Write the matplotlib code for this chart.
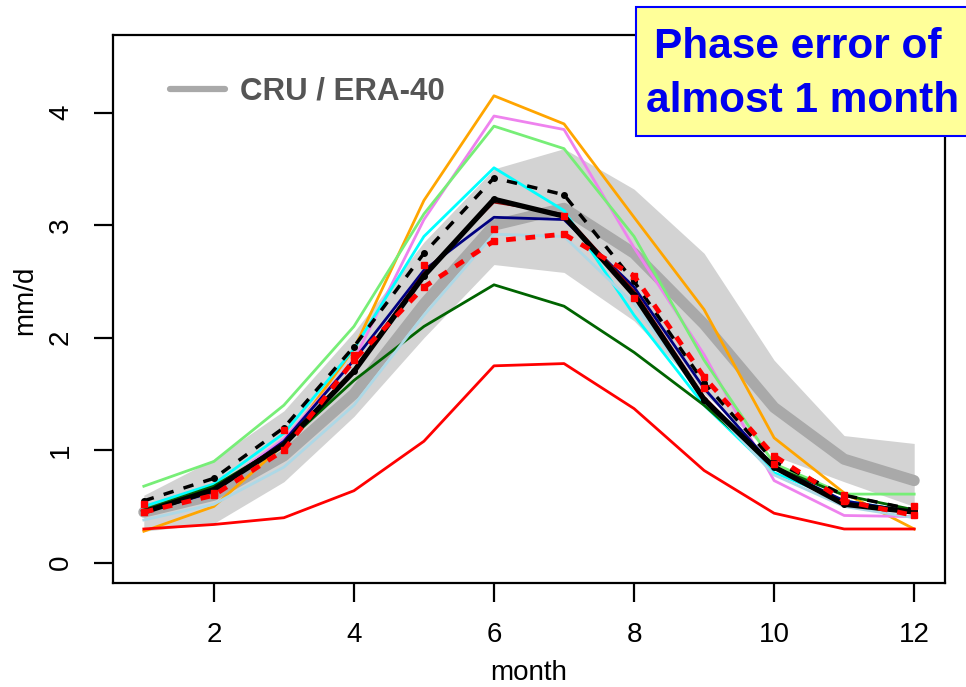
import numpy as np
import matplotlib
matplotlib.use("Agg")
import matplotlib.pyplot as plt
from matplotlib.lines import Line2D
from matplotlib.patches import Rectangle

plt.rcParams['font.family'] = ['Liberation Sans', 'DejaVu Sans']

months = np.arange(1, 13)

# observations (CRU / ERA-40) with spread
obs_mean = [0.45, 0.60, 0.95, 1.50, 2.30, 3.00, 3.15, 2.75, 2.12, 1.38, 0.92, 0.73]
obs_upper = [0.60, 0.92, 1.35, 2.05, 2.85, 3.50, 3.68, 3.32, 2.75, 1.80, 1.13, 1.06]
obs_lower = [0.28, 0.35, 0.72, 1.30, 2.00, 2.65, 2.58, 2.15, 1.50, 0.95, 0.72, 0.50]

# model runs
orange = [0.28, 0.50, 1.05, 1.90, 3.22, 4.15, 3.90, 3.07, 2.25, 1.11, 0.62, 0.30]
violet = [0.45, 0.65, 1.10, 1.80, 3.05, 3.97, 3.85, 2.80, 1.85, 0.73, 0.42, 0.41]
lgreen = [0.68, 0.90, 1.40, 2.10, 3.10, 3.88, 3.68, 2.90, 1.80, 0.88, 0.61, 0.61]
cyan = [0.50, 0.70, 1.15, 1.90, 2.90, 3.51, 3.13, 2.20, 1.40, 0.80, 0.55, 0.45]
dgreen = [0.47, 0.68, 1.05, 1.62, 2.10, 2.47, 2.28, 1.87, 1.40, 0.85, 0.60, 0.47]
red = [0.30, 0.34, 0.40, 0.64, 1.08, 1.75, 1.77, 1.37, 0.82, 0.44, 0.30, 0.30]
navy = [0.45, 0.63, 1.08, 1.80, 2.60, 3.07, 3.05, 2.45, 1.55, 0.85, 0.55, 0.45]
lblue = [0.38, 0.52, 0.85, 1.40, 2.20, 2.92, 2.90, 2.30, 1.45, 0.78, 0.50, 0.40]
darkred = [0.46, 0.66, 1.07, 1.72, 2.58, 3.20, 3.10, 2.42, 1.48, 0.84, 0.53, 0.45]
black = [0.45, 0.65, 1.05, 1.70, 2.55, 3.23, 3.08, 2.38, 1.45, 0.85, 0.52, 0.45]
black_dash = [0.55, 0.75, 1.20, 1.92, 2.75, 3.42, 3.27, 2.50, 1.60, 0.90, 0.60, 0.47]
red_dash = [0.45, 0.60, 1.00, 1.80, 2.45, 2.86, 2.92, 2.55, 1.65, 0.95, 0.55, 0.42]
red_dash2 = [0.52, 0.62, 1.18, 1.85, 2.65, 2.97, 3.08, 2.35, 1.55, 0.88, 0.60, 0.50]

fig = plt.figure(figsize=(9.66, 6.87), dpi=100)
ax = fig.add_axes([113/966, 1-583/687, 832/966, 548/687])

ax.fill_between(months, obs_lower, obs_upper, color='#d3d3d3', lw=0, zorder=1)
ax.plot(months, obs_mean, color='#a9a9a9', lw=8, solid_capstyle='round', zorder=2)

thin = 2.0
ax.plot(months, orange, color='orange', lw=thin, zorder=3)
ax.plot(months, violet, color='violet', lw=thin, zorder=3)
ax.plot(months, lgreen, color='#77ee77', lw=thin, zorder=3)
ax.plot(months, cyan, color='cyan', lw=thin, zorder=3)
ax.plot(months, dgreen, color='darkgreen', lw=thin, zorder=3)
ax.plot(months, red, color='red', lw=thin, zorder=3)
ax.plot(months, lblue, color='lightblue', lw=thin, zorder=3)
ax.plot(months, navy, color='navy', lw=thin, zorder=3)
ax.plot(months, darkred, color='darkred', lw=1.2, zorder=3)

ax.plot(months, black, color='black', lw=3.8, marker='o', ms=4, zorder=4)
ax.plot(months, black_dash, color='black', lw=2.5, ls=(0, (3, 3)), marker='o', ms=4, zorder=4)
ax.plot(months, red_dash, color='red', lw=3.5, ls=(0, (2, 2)), marker='s', ms=5, zorder=5)
ax.plot(months, red_dash2, color='red', lw=0, marker='s', ms=5, zorder=5)

ax.set_xlim(0.56, 12.44)
ax.set_ylim(-0.18, 4.69)
ax.set_xticks([2, 4, 6, 8, 10, 12])
ax.set_yticks([0, 1, 2, 3, 4])
for s in ax.spines.values():
    s.set_linewidth(1.6)
ax.tick_params(axis='both', direction='out', length=14, width=1.6, labelsize=20)
ax.tick_params(axis='x', pad=14)
ax.tick_params(axis='y', pad=14, labelrotation=90)
for lab in ax.get_yticklabels():
    lab.set_va('center')

fig.text(529/966, 1-660/687, 'month', ha='center', va='top', fontsize=20)
fig.text(25/966, 1-300/687, 'mm/d', ha='center', va='center', rotation=90, fontsize=20)

handle = Line2D([], [], color='#a9a9a9', lw=4.5, solid_capstyle='round')
ax.legend([handle], ['CRU / ERA-40'], loc='center left',
          bbox_to_anchor=(170/966, 1-92/687), bbox_transform=fig.transFigure,
          frameon=False, borderpad=0, borderaxespad=0, handlelength=1.75,
          handletextpad=0.5, labelcolor='#555555',
          prop={'weight': 'bold', 'size': 22.5})

box = Rectangle((636/966, 1-136/687), 400/966, 129/687, transform=fig.transFigure,
                facecolor='#ffff99', edgecolor='#0000ff', lw=1.5, clip_on=False, zorder=10)
fig.add_artist(box)
fig.text(798/966, 1-58/687, 'Phase error of', ha='center', va='baseline',
         color='#0000ee', fontsize=30.5, fontweight='bold', zorder=11)
fig.text(803/966, 1-112/687, 'almost 1 month', ha='center', va='baseline',
         color='#0000ee', fontsize=30.5, fontweight='bold', zorder=11)

fig.savefig('out.png', dpi=100)
